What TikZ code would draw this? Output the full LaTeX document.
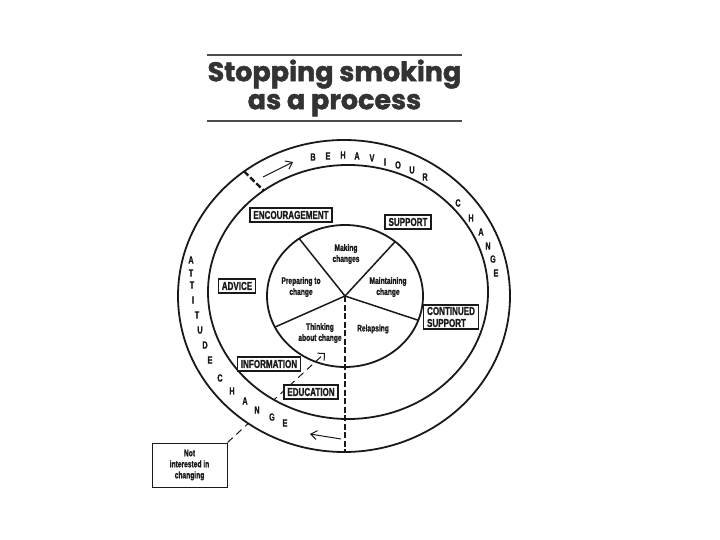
\documentclass[tikz,border=0pt]{standalone}
\usepackage{fontspec}
\setmainfont{Liberation Sans}
\newfontfamily\titlefont[BoldFeatures={FakeBold=1.6}]{Poppins}
\newfontfamily\narrowfont[FakeStretch=0.7, BoldFeatures={FakeBold=1.2}]{Liberation Sans}
\usetikzlibrary{arrows.meta, positioning, calc}

\begin{document}
\begin{tikzpicture}[x=1pt, y=-1pt, black!90,
  ring/.style={line width=1.8pt},
  wordbox/.style={draw, line width=1.4pt, fill=white, inner xsep=3.5pt, inner ysep=3pt,
    font=\narrowfont\bfseries\fontsize{11.5}{12}\selectfont},
  stage/.style={align=center, inner sep=1pt, font=\narrowfont\bfseries\fontsize{9.5}{11}\selectfont},
  letter/.style={inner sep=0pt, font=\narrowfont\bfseries\fontsize{10.5}{11}\selectfont},
  divider/.style={line width=2.4pt, dash pattern=on 6pt off 2.5pt},
  route/.style={line width=1pt, dash pattern=on 7pt off 5pt, -{Straight Barb[length=5pt, width=10pt]}},
  flow/.style={line width=1pt, -{Straight Barb[length=6pt, width=9pt]}}]
\useasboundingbox (0,0) rectangle (720,540);

% Title between two rules
\draw[line width=1.2pt, black!70] (207,55) -- (462,55);
\draw[line width=1.2pt, black!70] (207,121) -- (462,121);
\node[font=\titlefont\bfseries\fontsize{27}{28}\selectfont, text=black!80, align=center] (title) at (334.5,88) {Stopping smoking\\as a process};

% Centres of the three rings
\coordinate (outc) at (344,296);
\coordinate (midc) at (348,292);
\coordinate (pie) at (345,296);

% Route from "not interested" into the cycle (the ring hides its middle)
\node[draw, line width=1pt, minimum width=75pt, minimum height=44pt, stage] (notint) at (189.5,465) {Not\\interested in\\changing};
\coordinate (tip) at (325,353);
\draw[route] (notint.north east) -- (tip);
\fill[white, even odd rule] (outc) ellipse [x radius=166pt, y radius=156pt]
  (midc) ellipse [x radius=140pt, y radius=127pt];

% Rings
\draw[ring] (outc) ellipse [x radius=166pt, y radius=156pt];
\draw[ring] (midc) ellipse [x radius=140pt, y radius=127pt];
\draw[ring] (pie) ellipse [x radius=78pt, y radius=71pt];

% Spokes of the cycle
\foreach \a in {-126,-50,20,154}
  \draw[line width=1.5pt] (pie) -- ++(\a:78 and 71);

% Boundary between attitude and behaviour
\coordinate (splitA) at ($(outc)+(-127:166 and 156)$);
\coordinate (splitB) at ($(midc)+(-127:140 and 127)$);
\coordinate (bottom) at (345,452);
\draw[divider] (splitA) -- (splitB);
\draw[divider] (pie) -- (bottom);

% Stages
\node[stage] (making) at (346,254) {Making\\changes};
\node[stage] (maint) at (388,287) {Maintaining\\change};
\node[stage] (prep) at (301,287) {Preparing to\\change};
\node[stage] (think) at (320,333) {Thinking\\about change};
\node[stage] (relapse) at (373,329) {Relapsing};

% Kinds of help
\node[wordbox] (encour) at (291,215) {ENCOURAGEMENT};
\node[wordbox] (support) at (408,222) {SUPPORT};
\node[wordbox] (advice) at (237,286) {ADVICE};
\node[wordbox] (info) at (269,364) {INFORMATION};
\node[wordbox] (edu) at (311,392) {EDUCATION};
\node[wordbox, align=left, inner ysep=2pt] (contsup) at (451,317) {CONTINUED\\SUPPORT};

% Ring lettering
\foreach \ch/\x/\y [count=\i] in {B/313/157, E/328/156, H/343/155, A/357/156, V/372/158,
    I/385/162, O/398/165, U/412/170, R/425/177, C/458/203, H/471/218, A/481/232,
    N/488/246, G/493/259, E/496/273}
  \node[letter] (bc\i) at (\x,\y) {\ch};
\foreach \ch/\x/\y [count=\i] in {A/191/260, T/191/273, T/192/285, I/193/300, T/197/315,
    U/200/330, D/205/345, E/210/360, C/220/378, H/232/391, A/245/401, N/257/410,
    G/272/417, E/285/423}
  \node[letter] (ac\i) at (\x,\y) {\ch};

% Direction arrows in the ring
\coordinate (bfrom) at (263,177);
\coordinate (bto) at (293,162);
\coordinate (afrom) at (341,439);
\coordinate (ato) at (310,434);
\draw[flow] (bfrom) -- (bto);
\draw[flow] (afrom) -- (ato);
\end{tikzpicture}
\end{document}
